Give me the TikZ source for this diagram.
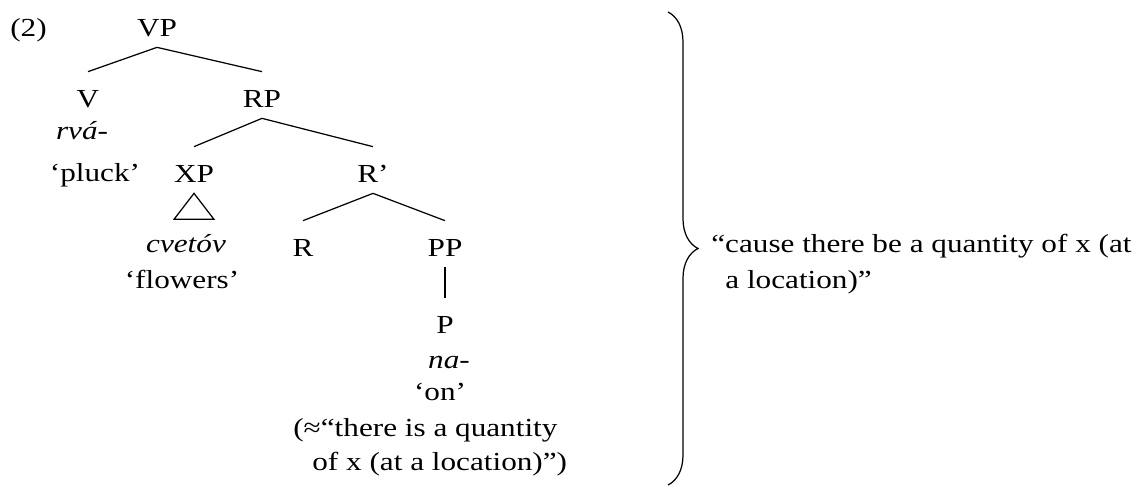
\documentclass[tikz,border=0pt]{standalone}
\usepackage{fontspec}
\setmainfont[FakeStretch=1.2]{Liberation Serif}
\usetikzlibrary{decorations.pathreplacing}
\tikzset{
  cat/.style={anchor=base,text height=0.48cm,text depth=0pt,inner xsep=0pt,inner ysep=0.22cm},
  leaf/.style={anchor=base,inner sep=0pt},
  branch/.style={line width=0.7pt},
}
\begin{document}
\begin{tikzpicture}[x=0.02cm,y=-0.02cm,font=\fontsize{14.8}{17}\selectfont]
  \useasboundingbox (0,0) rectangle (1146,487);
  \node[leaf,anchor=base west] (num) at (10,36) {(2)};
  % categories
  \node[cat] (VP) at (157,36) {VP};
  \node[cat] (V) at (88,107) {V};
  \node[cat] (RP) at (262,107) {RP};
  \node[cat] (XP) at (194,182) {XP};
  \node[cat] (Rbar) at (373,182) {R’};
  \node[cat] (R) at (303,256) {R};
  \node[cat] (PP) at (445,256) {PP};
  \node[cat] (P) at (445,333) {P};
  % words and glosses
  \node[leaf] (rva) at (82,139) {\itshape rvá-};
  \node[leaf] (pluck) at (95,181) {‘pluck’};
  \node[leaf] (cvetov) at (186,252) {\itshape cvetóv};
  \node[leaf] (flowers) at (182,288) {‘flowers’};
  \node[leaf] (na) at (449,368) {\itshape na-};
  \node[leaf] (on) at (440,400) {‘on’};
  \node[leaf,anchor=base west] (glossa) at (293,436) {(≈“there is a quantity};
  \node[leaf,anchor=base west] (glossb) at (312,470) {of x (at a location)”)};
  \node[leaf,anchor=base west] (causea) at (711,252) {“cause there be a quantity of x (at};
  \node[leaf,anchor=base west] (causeb) at (725,288) {a location)”};
  % branches
  \foreach \a/\b in {VP/V,VP/RP,RP/XP,RP/Rbar,Rbar/R,Rbar/PP,PP/P}
    \draw[branch] (\a.south) -- (\b.north);
  \draw[branch] (XP.south) -- ++(-20,26) -- ++(40,0) -- cycle;
  % brace
  \coordinate (btop) at (668,12);
  \coordinate (bbot) at (668,485);
  \draw[branch,decorate,decoration={brace,amplitude=0.6cm}] (btop) -- (bbot);
\end{tikzpicture}
\end{document}
